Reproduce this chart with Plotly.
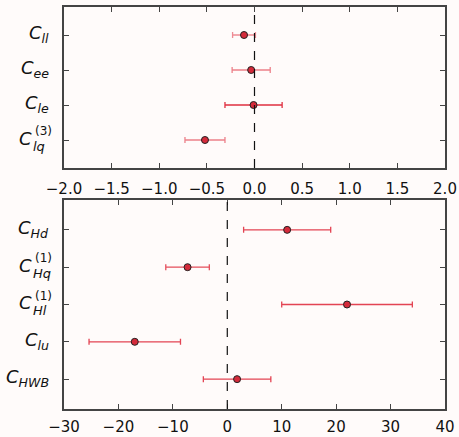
import plotly.graph_objects as go

# ---- data ----
top_names = ["ll", "ee", "le", "lq"]
top_sups = ["", "", "", "(3)"]
top_vals = [-0.11, -0.035, -0.01, -0.52]
top_errs = [0.12, 0.20, 0.30, 0.21]
top_alpha = [0.55, 0.6, 1.0, 0.6]

bot_names = ["Hd", "Hq", "Hl", "lu", "HWB"]
bot_sups = ["", "(1)", "(1)", "", ""]
bot_vals = [11.0, -7.3, 22.0, -17.0, 1.8]
bot_errs = [8.0, 4.0, 12.0, 8.4, 6.2]
bot_alpha = [0.9, 0.85, 0.9, 0.9, 0.9]

top_ticks = [-2.0, -1.5, -1.0, -0.5, 0.0, 0.5, 1.0, 1.5, 2.0]
top_ticktext = ["\u22122.0", "\u22121.5", "\u22121.0", "\u22120.5", "0.0", "0.5", "1.0", "1.5", "2.0"]
bot_ticks = [-30, -20, -10, 0, 10, 20, 30, 40]
bot_ticktext = ["\u221230", "\u221220", "\u221210", "0", "10", "20", "30", "40"]

W, H = 459, 437
ML, MR, MT, MB = 64, 14, 7, 28
ph = H - MT - MB
top_dom = [(H - MB - 168) / ph, 1.0]
bot_dom = [0.0, (H - MB - 200) / ph]

FONT = "DejaVu Sans, sans-serif"
BG = "#fffbfa"
AX = "#444444"

fig = go.Figure()


def add_panel(names, vals, errs, alphas, xa, ya):
    n = len(names)
    for i, (v, e, a) in enumerate(zip(vals, errs, alphas)):
        y = n - 1 - i
        fig.add_trace(go.Scatter(
            x=[v], y=[y], mode="markers", xaxis=xa, yaxis=ya,
            marker=dict(size=7, color="#d42a3a", line=dict(color="#222222", width=1)),
            error_x=dict(type="data", array=[e], visible=True,
                         color=f"rgba(224,48,64,{a})", thickness=1.3, width=3),
            showlegend=False, hoverinfo="skip"))


add_panel(top_names, top_vals, top_errs, top_alpha, "x", "y")
add_panel(bot_names, bot_vals, bot_errs, bot_alpha, "x2", "y2")

axis_common = dict(showline=True, linecolor=AX, linewidth=1.5, mirror="ticks",
                   ticks="inside", ticklen=5, tickwidth=1.2, tickcolor=AX,
                   showgrid=False, zeroline=False, ticklabeloverflow="allow",
                   automargin=False,
                   tickfont=dict(family=FONT, size=15, color="#111111"))

fig.update_layout(
    template="none",
    width=W, height=H,
    margin=dict(l=ML, r=MR, t=MT, b=MB, pad=0),
    paper_bgcolor=BG, plot_bgcolor=BG,
    xaxis=dict(domain=[0, 1], anchor="y", range=[-2, 2], tickvals=top_ticks,
               ticktext=top_ticktext, ticklabelstandoff=6, **axis_common),
    yaxis=dict(domain=top_dom, anchor="x", range=[-0.8, len(top_names) - 0.2],
               tickvals=list(range(len(top_names))), showticklabels=False,
               **axis_common),
    xaxis2=dict(domain=[0, 1], anchor="y2", range=[-30, 40], tickvals=bot_ticks,
                ticktext=bot_ticktext, ticklabelstandoff=3, **axis_common),
    yaxis2=dict(domain=bot_dom, anchor="x2", range=[-0.8, len(bot_names) - 0.2],
                tickvals=list(range(len(bot_names))), showticklabels=False,
                **axis_common),
)

# dashed zero lines
for xr, yr in [("x", "y domain"), ("x2", "y2 domain")]:
    fig.add_shape(type="line", xref=xr, yref=yr, x0=0, x1=0, y0=0, y1=1,
                  line=dict(color="#111111", width=1.2, dash="dash"))

# category labels (C with subscript, optional stacked superscript)
LFONT = dict(family=FONT, size=18, color="#111111")
SUBFONT = dict(family=FONT, size=13, color="#111111")
SUPFONT = dict(family=FONT, size=12, color="#111111")


def add_labels(names, sups, yref):
    n = len(names)
    for i, (nm, sp) in enumerate(zip(names, sups)):
        y = n - 1 - i
        if not sp:
            fig.add_annotation(x=0, xref="paper", y=y, yref=yref,
                               text=f"<i>C<sub>{nm}</sub></i>",
                               xanchor="right", yanchor="middle", showarrow=False,
                               xshift=-13, yshift=1, font=LFONT)
        else:
            fig.add_annotation(x=0, xref="paper", y=y, yref=yref, text="<i>C</i>",
                               xanchor="right", yanchor="middle", showarrow=False,
                               xshift=-30, yshift=2, font=LFONT)
            fig.add_annotation(x=0, xref="paper", y=y, yref=yref, text=f"<i>{nm}</i>",
                               xanchor="left", yanchor="middle", showarrow=False,
                               xshift=-33, yshift=-6, font=SUBFONT)
            fig.add_annotation(x=0, xref="paper", y=y, yref=yref, text=sp,
                               xanchor="left", yanchor="middle", showarrow=False,
                               xshift=-31, yshift=9, font=SUPFONT)


add_labels(top_names, top_sups, "y")
add_labels(bot_names, bot_sups, "y2")

fig.write_html("out.html", config={"displayModeBar": False},
               post_script="document.body.style.margin='0';"
                           "document.body.style.background='" + BG + "';")
